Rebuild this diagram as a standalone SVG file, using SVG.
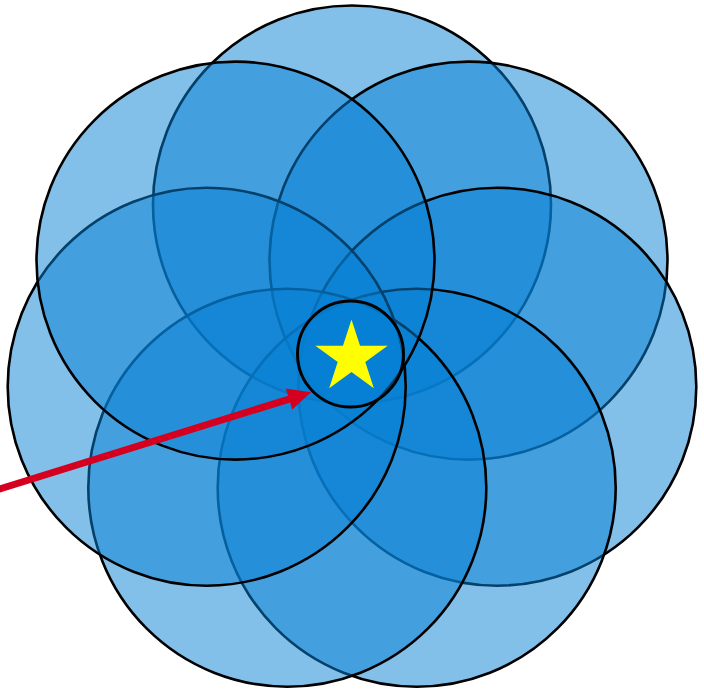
<svg xmlns="http://www.w3.org/2000/svg" width="704" height="691" viewBox="0 0 704 691">
  <style>
    .petal { fill: rgb(5,128,212); fill-opacity: 0.5; stroke: #000; stroke-width: 2.6; }
    .hub { fill: rgb(5,128,212); fill-opacity: 0.5; stroke: #000; stroke-width: 3; }
    .star { fill: #ffff00; stroke: none; }
    .arrow { stroke: #d5001f; stroke-width: 7; fill: none; }
  </style>
  <defs>
    <marker id="arrowhead" viewBox="0 0 23 22" refX="1" refY="11" markerWidth="23" markerHeight="22" markerUnits="userSpaceOnUse" orient="auto" overflow="visible">
      <path d="M0,0 L23,11 L0,22 Z" fill="#d5001f"/>
    </marker>
  </defs>
  <g id="circle-top"><circle class="petal" cx="352" cy="204.5" r="199"/></g>
  <g id="circle-upper-right"><circle class="petal" cx="468.5" cy="260.6" r="199"/></g>
  <g id="circle-middle-right"><circle class="petal" cx="497.3" cy="386.7" r="199"/></g>
  <g id="circle-bottom-right"><circle class="petal" cx="416.7" cy="487.7" r="199"/></g>
  <g id="circle-bottom-left"><circle class="petal" cx="287.3" cy="487.7" r="199"/></g>
  <g id="circle-middle-left"><circle class="petal" cx="206.7" cy="386.7" r="199"/></g>
  <g id="circle-upper-left"><circle class="petal" cx="235.5" cy="260.6" r="199"/></g>
  <g id="hub">
    <circle class="hub" cx="350.5" cy="354" r="53"/>
    <polygon class="star" points="351.5,319.5 360.02,345.77 387.64,345.76 365.29,361.98 373.84,388.24 351.5,372 329.16,388.24 337.71,361.98 315.36,345.76 342.98,345.77"/>
  </g>
  <g id="connectors">
    <line class="arrow" x1="-10" y1="491.9" x2="290" y2="398.8" marker-end="url(#arrowhead)"/>
  </g>
</svg>
